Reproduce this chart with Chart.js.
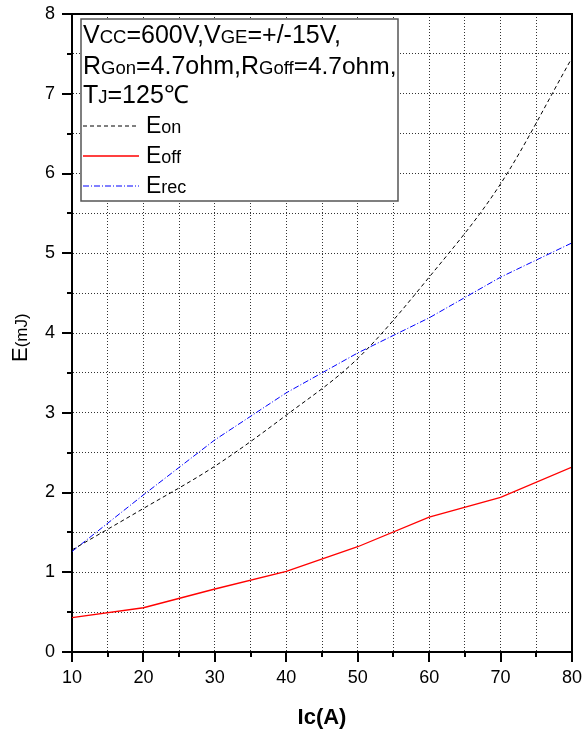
<!DOCTYPE html>
<html>
<head>
<meta charset="utf-8">
<script src="https://cdn.jsdelivr.net/npm/chart.js@4"></script>
<style>
  body { margin: 0; background: #fff; }
  #wrap { width: 584px; height: 734px; }
</style>
</head>
<body>
<div id="wrap"><canvas id="c"></canvas></div>
<script>
// collector current (A) and switching energies (mJ)
const current = [10, 20, 30, 40, 50, 60, 70, 80];
const eOn  = [1.28, 1.80, 2.33, 2.97, 3.68, 4.70, 5.87, 7.45];
const eOff = [0.43, 0.555, 0.79, 1.01, 1.32, 1.69, 1.94, 2.32];
const eRec = [1.26, 1.97, 2.66, 3.25, 3.75, 4.19, 4.70, 5.13];

const xTicks = [10, 20, 30, 40, 50, 60, 70, 80];
const yTicks = [0, 1, 2, 3, 4, 5, 6, 7, 8];

const FONT = '"Liberation Sans", Arial, sans-serif';

const pts = ys => current.map((c, i) => ({ x: c, y: ys[i] }));

// draws a run of text pieces with different sizes on one baseline
function drawRuns(ctx, runs, x, y) {
  runs.forEach(([txt, size]) => {
    ctx.font = size + 'px ' + FONT;
    ctx.fillText(txt, x, y);
    x += ctx.measureText(txt).width;
  });
}

const decor = {
  id: 'decor',
  afterDraw(chart) {
    const { ctx, chartArea: a, scales: { x, y } } = chart;
    ctx.save();

    // top and right frame
    ctx.strokeStyle = '#000';
    ctx.lineWidth = 2;
    ctx.beginPath();
    ctx.moveTo(a.left, a.top);
    ctx.lineTo(a.right, a.top);
    ctx.lineTo(a.right, a.bottom);
    ctx.stroke();

    // tick marks, long on labelled values, short in between
    ctx.lineWidth = 2;
    ctx.beginPath();
    for (let v = 0; v <= 8.001; v += 0.5) {
      const py = Math.round(y.getPixelForValue(v));
      const len = yTicks.includes(v) ? 10 : 5;
      ctx.moveTo(a.left - len, py);
      ctx.lineTo(a.left, py);
    }
    for (let v = 10; v <= 80; v += 5) {
      const px = Math.round(x.getPixelForValue(v));
      const len = xTicks.includes(v) ? 10 : 5;
      ctx.moveTo(px, a.bottom);
      ctx.lineTo(px, a.bottom + len);
    }
    ctx.stroke();

    // axis titles
    ctx.fillStyle = '#000';
    ctx.font = 'bold 22px ' + FONT;
    ctx.textAlign = 'center';
    ctx.textBaseline = 'alphabetic';
    ctx.fillText('Ic(A)', (a.left + a.right) / 2, 724);
    ctx.textAlign = 'left';

    ctx.save();
    ctx.translate(27, 362);
    ctx.rotate(-Math.PI / 2);
    drawRuns(ctx, [['E', 22], ['(mJ)', 17]], 0, 0);
    ctx.restore();

    // legend box
    ctx.fillStyle = '#fff';
    ctx.fillRect(81, 19, 317, 182);
    ctx.strokeStyle = '#555';
    ctx.lineWidth = 1.5;
    ctx.strokeRect(81, 19, 317, 182);

    ctx.fillStyle = '#000';
    drawRuns(ctx, [['V', 25], ['CC', 18.5], ['=600V,V', 25], ['GE', 18.5], ['=+/-15V,', 25]], 83, 43);
    drawRuns(ctx, [['R', 25], ['Gon', 18.5], ['=4.7ohm,R', 25], ['Goff', 18.5], ['=4.7ohm,', 24.5]], 83, 74);
    drawRuns(ctx, [['T', 25], ['J', 18.5], ['=125\u2103', 25]], 83, 103);

    const entries = [['on', 0, 126], ['off', 1, 156], ['rec', 2, 186]];
    entries.forEach(([sub, i, ly]) => {
      const ds = chart.data.datasets[i];
      ctx.strokeStyle = ds.borderColor;
      ctx.lineWidth = ds.borderWidth;
      ctx.setLineDash(ds.borderDash || []);
      ctx.beginPath();
      ctx.moveTo(83, ly);
      ctx.lineTo(139, ly);
      ctx.stroke();
      ctx.setLineDash([]);
      drawRuns(ctx, [['E', 23], [sub, 18]], 146, ly + 7);
    });

    ctx.restore();
  }
};

// v4 reads the grid line dash from border.dash; the axis line itself stays solid
const gridStyle = { color: '#333', lineWidth: 1, drawTicks: false };
const borderStyle = { display: true, color: '#000', width: 2, dash: [1, 2] };

new Chart(document.getElementById('c'), {
  type: 'line',
  data: {
    datasets: [
      {
        label: 'Eon',
        data: pts(eOn),
        borderColor: '#000',
        borderWidth: 1,
        borderDash: [4, 3],
        cubicInterpolationMode: 'monotone',
        pointRadius: 0
      },
      {
        label: 'Eoff',
        data: pts(eOff),
        borderColor: '#ff0000',
        borderWidth: 1.3,
        pointRadius: 0
      },
      {
        label: 'Erec',
        data: pts(eRec),
        borderColor: '#0000ff',
        borderWidth: 1,
        borderDash: [6, 2, 1, 2],
        pointRadius: 0
      }
    ]
  },
  options: {
    responsive: true,
    maintainAspectRatio: false,
    animation: false,
    layout: { padding: { top: 14, right: 12, left: 0, bottom: 0 } },
    plugins: { legend: { display: false }, tooltip: { enabled: false } },
    scales: {
      x: {
        type: 'linear',
        min: 10,
        max: 80,
        afterFit: s => {
          s.height = 82;
          s.paddingLeft = 0;
          s.paddingRight = 0;
        },
        ticks: {
          stepSize: 5,
          padding: 15,
          color: '#000',
          font: { family: FONT, size: 18 },
          maxRotation: 0,
          autoSkip: false,
          callback: v => (xTicks.includes(v) ? v : '')
        },
        grid: gridStyle,
        border: borderStyle
      },
      y: {
        min: 0,
        max: 8,
        afterFit: s => {
          s.width = 72;
          s.paddingTop = 0;
          s.paddingBottom = 0;
        },
        ticks: {
          stepSize: 0.5,
          padding: 17,
          color: '#000',
          font: { family: FONT, size: 18 },
          autoSkip: false,
          callback: v => (yTicks.includes(v) ? v : '')
        },
        grid: gridStyle,
        border: borderStyle
      }
    }
  },
  plugins: [decor]
});
</script>
</body>
</html>
